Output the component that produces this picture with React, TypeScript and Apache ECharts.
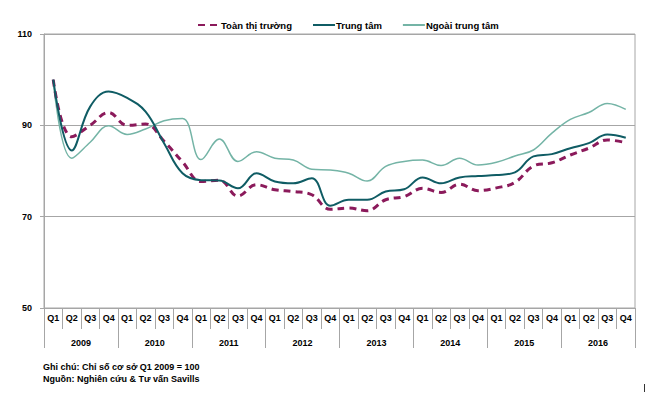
import React, { useEffect, useRef } from "react";
import * as echarts from "echarts";

const quarters = [
  "Q1", "Q2", "Q3", "Q4", "Q1", "Q2", "Q3", "Q4",
  "Q1", "Q2", "Q3", "Q4", "Q1", "Q2", "Q3", "Q4",
  "Q1", "Q2", "Q3", "Q4", "Q1", "Q2", "Q3", "Q4",
  "Q1", "Q2", "Q3", "Q4", "Q1", "Q2", "Q3", "Q4",
];
const years = ["2009", "2010", "2011", "2012", "2013", "2014", "2015", "2016"];

const toanThiTruong = [100, 87.5, 90, 92.8, 90, 90.3, 86.5, 82, 77.7, 78, 74.5, 77, 75.9, 75.5, 74.8, 71.6, 71.9, 71.3, 73.7, 74.4, 76.2, 75.3, 77.1, 75.7, 76.3, 77.5, 81.1, 81.8, 83.5, 85, 86.8, 86.2];
const trungTam = [100, 84.5, 94.1, 97.4, 96, 93, 86.1, 79.5, 78, 77.9, 76.2, 79.5, 77.7, 77.3, 78.4, 72.4, 73.7, 73.7, 75.5, 76, 78.6, 77.3, 78.6, 78.9, 79.1, 79.7, 83.2, 83.7, 85, 86.1, 88, 87.3];
const ngoaiTrungTam = [100, 82.8, 86.3, 89.9, 88, 89.2, 91, 91.5, 82.5, 87, 82.1, 84.2, 82.8, 82.4, 80.4, 80.2, 79.5, 77.8, 81, 82.1, 82.4, 81.2, 82.8, 81.3, 81.9, 83.3, 84.6, 88.3, 91.3, 92.8, 94.8, 93.5];

const seriesNames = ["Toàn thị trường", "Trung tâm", "Ngoài trung tâm"];
const noteLines = ["Ghi chú: Chỉ số cơ sở Q1 2009 = 100", "Nguồn: Nghiên cứu & Tư vấn Savills"];

const FONT = "'Liberation Sans', Arial, sans-serif";
const GRAY = "#a6a6a6";

export default function App() {
  const ref = useRef<HTMLDivElement>(null);
  useEffect(() => {
    if (!ref.current) return;
    const chart = echarts.init(ref.current, null, { renderer: "svg" });
    chart.setOption({
      animation: false,
      backgroundColor: "#ffffff",
      textStyle: { fontFamily: FONT },
      legend: {
        top: 15,
        left: 192,
        itemWidth: 22,
        itemHeight: 8,
        itemGap: 20,
        itemStyle: { opacity: 0 },
        textStyle: { fontFamily: FONT, fontSize: 9.5, fontWeight: "bold", color: "#000", padding: [0, 0, 0, -4] },
        data: seriesNames,
      },
      grid: {
        left: 44,
        right: 15,
        top: 34,
        bottom: 88,
        show: true,
        borderColor: GRAY,
        borderWidth: 1,
      },
      xAxis: [
        {
          type: "category",
          data: quarters,
          boundaryGap: true,
          axisLine: { show: true, lineStyle: { color: GRAY } },
          axisTick: { show: true, interval: 0, length: 21, lineStyle: { color: GRAY } },
          axisLabel: { interval: 0, margin: 5, fontSize: 9, fontWeight: "bold", color: "#000", fontFamily: FONT },
        },
        {
          type: "category",
          data: years,
          position: "bottom",
          boundaryGap: true,
          axisLine: { show: false },
          axisTick: { show: true, interval: 0, length: 40, lineStyle: { color: GRAY } },
          axisLabel: { interval: 0, margin: 30, fontSize: 9, fontWeight: "bold", color: "#000", fontFamily: FONT },
        },
      ],
      yAxis: {
        type: "value",
        min: 50,
        max: 110,
        interval: 20,
        axisLine: { show: true, lineStyle: { color: GRAY } },
        axisTick: { show: true, length: 4, lineStyle: { color: GRAY } },
        axisLabel: { margin: 12, fontSize: 9, fontWeight: "bold", color: "#000", fontFamily: FONT },
        splitLine: { show: true, lineStyle: { color: GRAY, width: 1 } },
      },
      series: [
        {
          name: seriesNames[0],
          type: "line",
          data: toanThiTruong,
          smooth: 0.4,
          symbol: "none",
          lineStyle: { color: "#8b1a5b", width: 3, type: [7, 5] },
          itemStyle: { color: "#8b1a5b" },
          z: 3,
        },
        {
          name: seriesNames[1],
          type: "line",
          data: trungTam,
          smooth: 0.4,
          symbol: "none",
          lineStyle: { color: "#0f5c64", width: 2 },
          itemStyle: { color: "#0f5c64" },
          z: 4,
        },
        {
          name: seriesNames[2],
          type: "line",
          data: ngoaiTrungTam,
          smooth: 0.4,
          symbol: "none",
          lineStyle: { color: "#74b4a6", width: 1.5 },
          itemStyle: { color: "#74b4a6" },
          z: 2,
        },
      ],
      graphic: [
        {
          type: "text",
          left: 43,
          top: 362,
          style: { text: noteLines[0], fill: "#000", font: `bold 9px ${FONT}` },
        },
        {
          type: "text",
          left: 43,
          top: 374,
          style: { text: noteLines[1], fill: "#000", font: `bold 9px ${FONT}` },
        },
        {
          type: "rect",
          shape: { x: 644, y: 384, width: 1, height: 8 },
          style: { fill: "#333" },
        },
      ],
    });
    return () => chart.dispose();
  }, []);
  return (
    <div
      ref={ref}
      style={{ position: "absolute", left: 0, top: 0, width: 650, height: 396 }}
    />
  );
}
